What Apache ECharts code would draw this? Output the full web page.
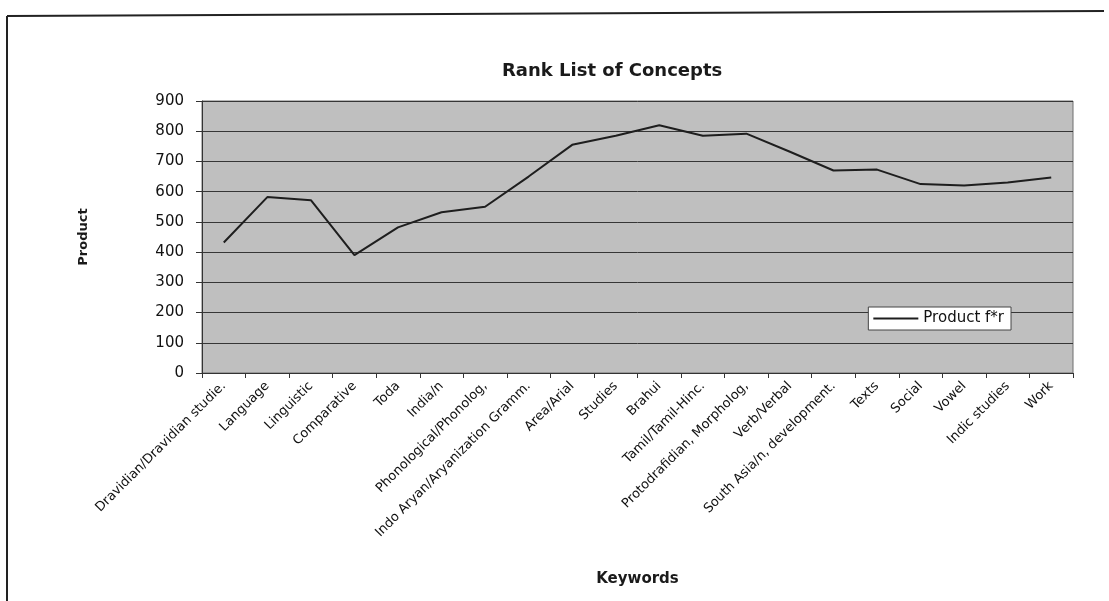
<!DOCTYPE html>
<html>
<head>
<meta charset="utf-8">
<title>Rank List of Concepts</title>
<script src="https://cdn.jsdelivr.net/npm/echarts@6/dist/echarts.min.js"></script>
<style>
  html, body { margin: 0; padding: 0; background: #fff; }
  #chart { width: 1109px; height: 601px; }
</style>
</head>
<body>
<div id="chart"></div>
<script>
// keyword categories along the x axis
const keywords = [
  'Dravidian/Dravidian studie.', 'Language', 'Linguistic', 'Comparative', 'Toda',
  'India/n', 'Phonological/Phonolog,', 'Indo Aryan/Aryanization Gramm.', 'Area/Arial', 'Studies',
  'Brahui', 'Tamil/Tamil-Hinc.', 'Protodrafidian, Morpholog,', 'Verb/Verbal', 'South Asia/n, development.',
  'Texts', 'Social', 'Vowel', 'Indic studies', 'Work'
]

// product f*r for each keyword
const productValues = [
  432, 582, 572, 390, 482, 532, 550, 650, 755, 785,
  820, 785, 792, 732, 670, 673, 625, 620, 630, 647
]

const seriesName = 'Product f*r'
// the scan is stretched sideways, DejaVu Sans is close to that wide Arial look
const font = '"DejaVu Sans", Arial, sans-serif'

const chart = echarts.init(document.getElementById('chart'))

const option = {
  backgroundColor: '#fff',
  animation: false,
  title: {
    text: 'Rank List of Concepts',
    left: 497,
    top: 57,
    textStyle: {
      fontFamily: font,
      fontSize: 18,
      fontWeight: 'bold',
      color: '#1a1a1a'
    }
  },
  legend: {
    data: [seriesName],
    right: 98,
    top: 307,
    backgroundColor: '#fff',
    borderColor: '#444',
    borderWidth: 1,
    padding: [4, 7, 4, 5],
    itemWidth: 45,
    itemHeight: 2,
    itemGap: 5,
    icon: 'rect',
    textStyle: {
      fontFamily: font,
      fontSize: 15,
      color: '#111',
      padding: [0, 0, 0, 0]
    }
  },
  grid: {
    left: 202,
    right: 36,
    top: 101,
    bottom: 228,
    show: true,
    backgroundColor: '#bfbfbf',
    borderColor: '#6e6e6e',
    borderWidth: 1
  },
  xAxis: {
    type: 'category',
    data: keywords,
    boundaryGap: true,
    name: 'Keywords',
    nameLocation: 'middle',
    nameGap: 199,
    nameTextStyle: {
      fontFamily: font,
      fontSize: 15,
      fontWeight: 'bold',
      color: '#1a1a1a'
    },
    axisLine: {
      lineStyle: { color: '#333', width: 1 }
    },
    axisTick: {
      show: true,
      interval: 0,
      length: 5,
      lineStyle: { color: '#333' }
    },
    axisLabel: {
      interval: 0,
      rotate: 45,
      margin: 11,
      fontFamily: font,
      fontSize: 13,
      color: '#111'
    },
    splitLine: { show: false }
  },
  yAxis: {
    type: 'value',
    min: 0,
    max: 900,
    interval: 100,
    name: 'Product',
    nameLocation: 'middle',
    nameGap: 112,
    nameRotate: 90,
    nameTextStyle: {
      fontFamily: font,
      fontSize: 13,
      fontWeight: 'bold',
      color: '#1a1a1a'
    },
    axisLine: {
      show: true,
      lineStyle: { color: '#333', width: 1 }
    },
    axisTick: {
      show: true,
      length: 6,
      lineStyle: { color: '#333' }
    },
    axisLabel: {
      margin: 18,
      fontFamily: font,
      fontSize: 15,
      color: '#111'
    },
    splitLine: {
      show: true,
      lineStyle: { color: '#363636', width: 1 }
    }
  },
  series: [
    {
      name: seriesName,
      type: 'line',
      data: productValues,
      symbol: 'none',
      lineStyle: { color: '#1e1e1e', width: 2 },
      itemStyle: { color: '#1e1e1e' }
    }
  ],
  graphic: [
    // scanned page frame
    {
      type: 'line',
      shape: { x1: 7, y1: 16, x2: 7, y2: 601 },
      style: { stroke: '#222', lineWidth: 2 }
    },
    {
      type: 'line',
      shape: { x1: 7, y1: 16, x2: 1104, y2: 11 },
      style: { stroke: '#222', lineWidth: 2 }
    }
  ]
}

chart.setOption(option)
</script>
</body>
</html>
